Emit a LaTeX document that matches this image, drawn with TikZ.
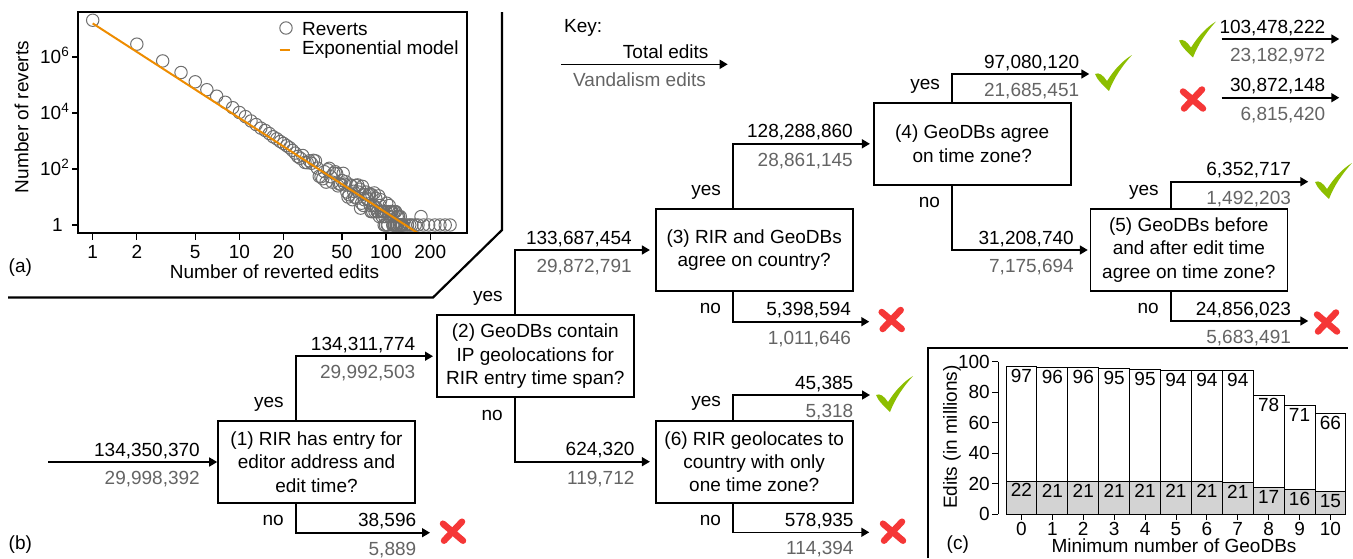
\documentclass[tikz,border=0pt]{standalone}
\usepackage{fontspec}
\setmainfont{Liberation Sans}
\usetikzlibrary{arrows.meta,calc}
\definecolor{gtext}{RGB}{100,100,100}
\definecolor{ptgray}{RGB}{110,110,110}
\definecolor{orng}{RGB}{238,140,0}
\definecolor{chkc}{RGB}{140,190,0}
\definecolor{crsc}{RGB}{245,55,55}
\definecolor{barg}{RGB}{211,211,211}
\begin{document}
\begin{tikzpicture}[x=1pt,y=-1pt, font=\fontsize{19}{23.3}\selectfont,
  box/.style={draw, line width=1.6pt, minimum width=197pt, minimum height=82pt, inner sep=0pt, align=center},
  arr/.style={line width=1.6pt, -{Triangle[length=8pt,width=9pt]}},
  tot/.style={anchor=base east, inner sep=0pt, xshift=-16pt, yshift=6pt},
  van/.style={anchor=base east, inner sep=0pt, xshift=-16pt, yshift=-22.5pt, text=gtext},
  yesl/.style={anchor=base east, inner sep=0pt, xshift=-11.5pt, yshift=13pt},
  nol/.style={anchor=base east, inner sep=0pt, xshift=-11.5pt, yshift=-22pt},
  frame/.style={line width=2.2pt},
  pt/.style={draw=ptgray, line width=1pt},
  lab/.style={inner sep=0pt},
  chk/.pic={\fill[chkc] (-18,0) .. controls (-14,-2) and (-10,1) .. (-6,7)
      .. controls (1,-4) and (9,-13) .. (19,-19)
      .. controls (9,-8) and (1,4) .. (-4,17)
      .. controls (-9,12) and (-16,6) .. (-18,0) -- cycle;},
  crs/.pic={\draw[crsc, line width=6.5pt, line cap=round] (-10,-8) -- (10,9) (9,-10) -- (-9,9);},
]
\useasboundingbox (0,0) rectangle (1353,558);

% ---------- panel (a) ----------
\draw[frame] (502,12) -- (502,230) -- (433,297.5) -- (8,297.5);
\pgfmathsetseed{12345}
\foreach \n in {1,...,130}{
  \pgfmathsetmacro\L{log10(\n)}
  \pgfmathsetmacro\off{\n<2 ? 0.12 : (\n<7 ? 0.28 : max(0, 0.28*(1.55-\L)/0.77))}
  \pgfmathsetmacro\amp{\n<22 ? 0.02 : min(0.42, 0.02+(\L-1.34)*1.1)}
  \pgfmathsetmacro\lv{7.2-3.38*\L+\off+\amp*rand}
  \pgfmathsetmacro\lw{\lv<2.5 ? log10(max(1,round(10^min(\lv,2.5)))) : \lv}
  \draw[pt] ({92.7+146.7*\L},{225-28*\lw}) circle[radius=6.2];
}
\foreach \n/\c in {135/0,140/0,145/0,150/0,158/0,165/0,173/0.301,180/0,195/0,215/0,233/0,253/0,273/0}{
  \draw[pt] ({92.7+146.7*log10(\n)},{225-28*\c}) circle[radius=6.2];
}
\draw[orng, line width=2pt] (92.7,23.4) -- (417.7,233);
\draw[line width=1.5pt] (78,12) rectangle (467,233);
\foreach \v in {0,2,4,6}{\draw[line width=1.2pt] (78,{225-28*\v}) -- ++(-6,0);}
\node[lab, anchor=base east] (ty0) at (63,231.7) {1};
\node[lab, anchor=base east] (ty2) at (69,175.8) {10\raisebox{7.5pt}{\fontsize{13.5}{13.5}\selectfont 2}};
\node[lab, anchor=base east] (ty4) at (69,119.8) {10\raisebox{7.5pt}{\fontsize{13.5}{13.5}\selectfont 4}};
\node[lab, anchor=base east] (ty6) at (69,63.8) {10\raisebox{7.5pt}{\fontsize{13.5}{13.5}\selectfont 6}};
\foreach \n in {1,2,5,10,20,50,100,200}{
  \draw[line width=1.2pt] ({92.7+146.7*log10(\n)},233) -- ++(0,7);
  \node[lab, anchor=base] at ({92.7+146.7*log10(\n)},258.4) {\n};
}
\node[rotate=90] (ytit) at (21.7,117) {Number of reverts};
\node (xtit) at (274.5,271.7) {Number of reverted edits};
\node[lab, anchor=base west] (pa) at (8.5,272.7) {(a)};
\draw[pt] (286,28) circle[radius=6.2];
\node[lab, anchor=base west] (lg1) at (302,35) {Reverts};
\draw[orng, line width=2.5pt] (279.5,50) -- (289.5,50);
\node[lab, anchor=base west] (lg2) at (302,54) {Exponential model};

% ---------- panel (b) ----------
\node[lab, anchor=base west] (pb) at (8.5,549.5) {(b)};
\node[lab, anchor=base west] (key) at (564,32) {Key:};
\coordinate (k1) at (561,64.3);
\coordinate (k2) at (727.7,64.3);
\draw[arr] (k1) -- (k2) node[tot,xshift=-2.4pt]{Total edits} node[van,xshift=-5pt]{Vandalism edits};

\node[box] (b1) at (316.5,462) {(1) RIR has entry for\\editor address and\\edit time?};
\node[box] (b2) at (535.3,356.2) {(2) GeoDBs contain\\IP geolocations for\\RIR entry time span?};
\node[box] (b3) at (754.2,250) {(3) RIR and GeoDBs\\agree on country?};
\node[box] (b6) at (754.2,461.7) {(6) RIR geolocates to\\country with only\\one time zone?};
\node[box] (b4) at (972.2,143.8) {(4) GeoDBs agree\\on time zone?};
\node[box] (b5) at (1188.8,250) {(5) GeoDBs before\\and after edit time\\agree on time zone?};

\coordinate (in0) at (48,462);
\coordinate (e1) at (430,532.7);
\coordinate (e3) at (869.3,321.7);
\coordinate (e6y) at (870,395);
\coordinate (e6n) at (869.3,532.3);
\coordinate (e4y) at (1089.3,74);
\coordinate (e5y) at (1308.3,181.7);
\coordinate (e5n) at (1308.3,321);
\coordinate (s1a) at (1221.7,39);
\coordinate (s1b) at (1339.3,39);
\coordinate (s2a) at (1221.7,97.7);
\coordinate (s2b) at (1339.3,97.7);

\draw[arr] (in0) -- (b1.west) node[tot,xshift=-0.6pt]{134,350,370} node[van,xshift=-0.6pt]{29,998,392};
\draw[arr, shorten >=3pt] ([xshift=-20.5pt]b1.north) node[yesl]{yes} |- (b2.west)
  node[tot,xshift=-4pt]{134,311,774} node[van,xshift=-4pt]{29,992,503};
\draw[arr] ([xshift=-20.5pt]b1.south) node[nol]{no} |- (e1)
  node[tot,xshift=3pt]{38,596} node[van,xshift=3pt]{5,889};
\draw[arr, shorten >=5pt] ([xshift=-20.3pt]b2.north) node[yesl]{yes} |- (b3.west)
  node[tot,xshift=-6.4pt]{133,687,454} node[van,xshift=-6.4pt]{29,872,791};
\draw[arr, shorten >=5pt] ([xshift=-20.3pt]b2.south) node[nol]{no} |- (b6.west)
  node[tot,xshift=-3.7pt]{624,320} node[van,xshift=-3.7pt]{119,712};
\draw[arr, shorten >=3pt] ([xshift=-21pt]b3.north) node[yesl]{yes} |- (b4.west)
  node[tot,xshift=-3.3pt]{128,288,860} node[van,xshift=-3.3pt]{28,861,145};
\draw[arr] ([xshift=-21pt]b3.south) node[nol]{no} |- (e3)
  node[tot,xshift=-1.6pt]{5,398,594} node[van,xshift=-1.6pt]{1,011,646};
\draw[arr] ([xshift=-21pt]b6.north) node[yesl]{yes} |- (e6y)
  node[tot]{45,385} node[van]{5,318};
\draw[arr] ([xshift=-21pt]b6.south) node[nol]{no} |- (e6n)
  node[tot,xshift=1pt]{578,935} node[van,xshift=1pt]{114,394};
\draw[arr] ([xshift=-20pt]b4.north) node[yesl]{yes} |- (e4y)
  node[tot,xshift=6.7pt]{97,080,120} node[van,xshift=6.7pt]{21,685,451};
\draw[arr, shorten >=1.7pt] ([xshift=-20pt]b4.south) node[nol]{no} |- (b5.west)
  node[tot,xshift=1pt]{31,208,740} node[van,xshift=1pt]{7,175,694};
\draw[arr] ([xshift=-17.8pt]b5.north) node[yesl]{yes} |- (e5y)
  node[tot,xshift=-0.6pt]{6,352,717} node[van,xshift=-0.6pt]{1,492,203};
\draw[arr] ([xshift=-17.8pt]b5.south) node[nol]{no} |- (e5n)
  node[tot,xshift=-0.6pt]{24,856,023} node[van,xshift=-0.6pt]{5,683,491};
\draw[arr] (s1a) -- (s1b) node[tot,xshift=2.7pt]{103,478,222} node[van,xshift=2.7pt]{23,182,972};
\draw[arr] (s2a) -- (s2b) node[tot,xshift=2.7pt]{30,872,148} node[van,xshift=2.7pt]{6,815,420};

\pic at (453,531.7) {crs};
\pic at (891.7,320) {crs};
\pic at (894,395) {chk};
\pic at (893,531.7) {crs};
\pic at (1113,74) {chk};
\pic at (1333,182) {chk};
\pic at (1327,322.5) {crs};
\pic at (1197,40.5) {chk};
\pic at (1193,99.5) {crs};

% ---------- panel (c) ----------
\draw[frame] (928,558) -- (928,348) -- (1348,348);
\foreach \k/\t/\g/\tl/\gl in {0/97.08/21.69/97/22, 1/96.3/21.4/96/21, 2/96.0/21.3/96/21,
   3/95.4/21.3/95/21, 4/94.9/21.2/95/21, 5/94.5/21.1/94/21, 6/94.3/21.1/94/21,
   7/94.0/21.0/94/21, 8/78.1/17.5/78/17, 9/71.1/16.2/71/16, 10/66.1/14.8/66/15}{
  \pgfmathsetmacro\xa{1006+30.9*\k}
  \pgfmathsetmacro\xb{\xa+30.9}
  \pgfmathsetmacro\xc{\xa+15.45}
  \pgfmathsetmacro\yt{514-1.523*\t}
  \pgfmathsetmacro\yg{514-1.523*\g}
  \draw[line width=0.9pt, fill=white] (\xa,514) rectangle (\xb,\yt);
  \draw[line width=0.9pt, fill=barg] (\xa,514) rectangle (\xb,\yg);
  \node[lab, anchor=base] at ({\xc},{\yt+16}) {\tl};
  \node[lab, anchor=base] at ({\xc},{\yg+16}) {\gl};
  \draw[line width=0.9pt] (\xc,514) -- (\xc,520);
  \node[lab, anchor=base] at ({\xc},535) {\k};
}
\draw[line width=0.9pt] (998,361.7) -- (998,514);
\foreach \v in {0,20,40,60,80,100}{
  \draw[line width=0.9pt] (998,{514-1.523*\v}) -- ++(-6,0);
  \node[lab, anchor=base east] at (990,{514-1.523*\v+6.8}) {\v};
}
\node[rotate=90] (ctit) at (952,437) {Edits (in millions)};
\node[lab, anchor=base] (cx) at (1174,552) {Minimum number of GeoDBs};
\node[lab, anchor=base west] (pc) at (946.5,549.5) {(c)};
\end{tikzpicture}
\end{document}
